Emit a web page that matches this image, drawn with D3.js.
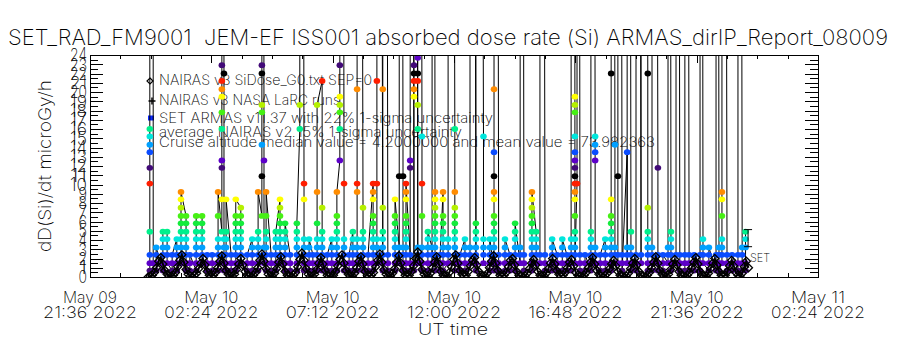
<!DOCTYPE html>
<html><head><meta charset="utf-8">
<script src="https://cdn.jsdelivr.net/npm/d3@7"></script>
<style>
body{margin:0;background:#fff}
svg{display:block}
text{font-family:"Inter","DejaVu Sans",sans-serif;font-weight:200;fill:#000}
.axis path,.axis line{stroke:#000;stroke-width:1;shape-rendering:crispEdges}
</style>
</head><body>
<svg id="c" width="900" height="350"></svg>
<script>
// ---------------- data ----------------
const chartTitle = "SET_RAD_FM9001  JEM-EF ISS001 absorbed dose rate (Si) ARMAS_dirIP_Report_08009";
const yTitle = "dD(Si)/dt microGy/h";
const xTitle = "UT time";
const xTickLabels = [["May 09","21:36 2022"],["May 10","02:24 2022"],["May 10","07:12 2022"],["May 10","12:00 2022"],["May 10","16:48 2022"],["May 10","21:36 2022"],["May 11","02:24 2022"]];
const xMajorMinutes = [0, 288, 576, 864, 1152, 1440, 1728];      // minutes after 2022-05-09 21:36 UT
const yTickValues = [0,1,2,3,4,5,6,7,8,9,10,11,12,13,14,15,16,17,18,19,20,21,22,23,24];
const legendLabels = [
  "NAIRAS v3 SiDose_G0.txt SEP=0",
  "NAIRAS v3 NASA LaRC runs",
  "SET ARMAS v11.37 with 22% 1-sigma uncertainty",
  "average NAIRAS v2 15% 1-sigma uncertainty",
  "Cruise altitude median value = 4.2000000 and mean value = 73.982363"
];
const cruiseMedian = 4.2;
const setUncertainty = 0.22;
const setErrMinute = 1562;
// SET ARMAS samples, grouped: [minute, dose, dose, ...] in time order (values > 24 are off scale)
const setColumns = [
 [142, 0.7, 1.5, 2.4, 4.9, 10.1, 11.8, 13.5, 14.3, 15.2, 16.0, 300],
 [150, 300, 1.5, 0.7],
 [157, 0.7, 1.5, 2.4, 3.2],
 [173, 0.7, 1.5, 2.4, 3.2, 4.1, 4.9],
 [183, 4.9, 4.1, 3.2, 2.4, 1.5],
 [195, 0.7, 1.5, 2.4],
 [206, 4.1, 3.2, 2.4, 1.5, 0.7],
 [216, 1.5, 2.4, 3.2, 4.1, 4.9, 5.8, 6.6, 7.5, 8.4, 9.2],
 [228, 6.6, 5.8, 4.9, 4.1, 3.2, 2.4, 1.5, 0.7],
 [237, 0.7, 1.5, 2.4],
 [252, 0.7, 1.5, 2.4, 3.2, 4.1, 4.9, 5.8, 6.6],
 [266, 6.6, 5.8, 4.9, 4.1, 3.2, 2.4, 1.5],
 [278, 0.7, 1.5, 2.4],
 [290, 2.4, 1.5, 0.7],
 [304, 0.7, 1.5, 2.4, 3.2, 4.1, 6.6, 9.2],
 [313, 4.9, 8.4, 11.8, 12.6, 16.0, 17.8, 19.5, 20.3, 21.2, 22.9, 300],
 [318, 22.0, 4.1, 3.2, 2.4, 1.5, 0.7],
 [323, 0.7, 1.5, 2.4, 3.2, 4.1, 4.9, 8.4],
 [335, 2.4, 1.5, 0.7],
 [346, 0.7, 1.5, 2.4, 3.2, 4.1, 4.9, 5.8, 6.6, 8.4],
 [358, 7.5, 6.6, 5.8, 4.9, 4.1, 3.2, 2.4, 1.5],
 [373, 0.7, 1.5, 2.4],
 [385, 4.1, 3.2, 2.4, 1.5, 0.7],
 [399, 0.7, 1.5, 2.4, 3.2, 4.1, 4.9, 9.2],
 [408, 6.6, 10.9, 14.3, 17.8, 18.6, 22.0, 22.9, 300],
 [413, 12.6, 3.2, 2.4, 1.5],
 [418, 0.7, 1.5, 2.4, 3.2, 4.1, 4.9, 6.6, 9.2],
 [430, 2.4, 1.5, 0.7],
 [441, 0.7, 1.5, 2.4, 3.2, 4.1, 4.9],
 [451, 8.4, 7.5, 6.6, 5.8, 4.9, 4.1, 3.2, 2.4, 1.5],
 [463, 0.7, 1.5, 2.4, 3.2, 4.1, 4.9, 5.8],
 [475, 2.4, 1.5, 0.7],
 [491, 0.7, 1.5, 2.4, 3.2, 4.1, 4.9, 5.8],
 [498, 16.0, 18.6, 300],
 [508, 10.1, 8.4, 4.1, 3.2, 2.4, 1.5, 0.7],
 [520, 0.7, 1.5, 2.4, 3.2, 4.1],
 [529, 2.4, 1.5, 0.7],
 [539, 0.7, 1.5, 2.4, 3.2, 4.1, 5.8, 9.2, 18.6],
 [551, 21.2, 7.5, 4.9, 4.1, 3.2, 2.4, 1.5, 0.7],
 [563, 0.7, 1.5, 2.4],
 [574, 4.1, 3.2, 2.4, 1.5, 0.7],
 [586, 0.7, 1.5, 2.4, 3.2, 4.1, 4.9, 5.8, 6.6, 9.2],
 [593, 12.6, 16.0, 17.8, 18.6, 19.5, 22.9, 300],
 [603, 10.1, 4.1, 3.2, 2.4, 1.5, 0.7],
 [615, 0.7, 1.5, 2.4],
 [624, 4.9, 4.1, 3.2, 2.4, 1.5, 0.7],
 [634, 0.7, 1.5, 2.4, 3.2, 4.1, 9.2, 10.1, 20.3, 300],
 [648, 7.5, 4.9, 4.1, 3.2, 2.4, 1.5, 0.7],
 [660, 0.7, 1.5, 2.4],
 [672, 10.1, 9.2, 8.4, 6.6, 5.8, 4.9, 4.1, 3.2, 2.4, 1.5, 0.7],
 [681, 1.5, 2.4, 3.2, 4.1, 10.1, 21.2, 300],
 [695, 0.7, 1.5, 2.4, 3.2, 4.1, 4.9, 7.5, 20.3, 300],
 [707, 2.4, 1.5, 0.7],
 [724, 0.7, 1.5, 2.4, 3.2, 4.1, 4.9, 5.8, 6.6, 8.4],
 [734, 3.2, 2.4, 1.5, 10.9, 300],
 [743, 10.9, 3.2, 2.4, 1.5, 0.7],
 [750, 0.7, 1.5, 2.4, 3.2, 4.1, 4.9, 5.8, 6.6, 8.4, 9.2, 10.1],
 [760, 2.4, 1.5, 0.7, 11.8, 12.6, 300],
 [769, 0.7, 1.5, 19.5, 20.3, 21.2, 22.0, 22.9, 300],
 [778, 1.5, 2.4, 3.2, 16.0, 18.6, 21.2, 22.0, 23.7, 300],
 [788, 15.2, 10.1, 6.6, 3.2, 2.4, 1.5, 0.7],
 [802, 0.7, 1.5, 2.4, 3.2, 4.1, 4.9],
 [812, 3.2, 2.4, 1.5, 300],
 [819, 9.2, 8.4, 7.5, 6.6, 5.8, 4.9, 4.1, 3.2, 2.4, 1.5, 0.7],
 [831, 0.7, 1.5, 2.4],
 [838, 9.2, 8.4, 6.6, 5.8, 4.9, 4.1, 3.2, 2.4, 1.5, 0.7],
 [850, 1.5, 2.4, 3.2, 4.1, 300],
 [866, 16.0, 9.2, 7.5, 6.6, 5.8, 4.9, 4.1, 3.2, 2.4, 1.5, 0.7],
 [878, 0.7, 1.5, 2.4],
 [890, 4.1, 3.2, 2.4, 1.5, 0.7],
 [902, 1.5, 2.4, 3.2, 300],
 [916, 5.8, 4.9, 4.1, 3.2, 2.4, 1.5, 0.7, 300],
 [934, 15.2, 4.1, 3.2, 2.4, 1.5],
 [949, 0.7, 1.5, 2.4, 3.2, 4.1],
 [959, 0.7, 1.5, 2.4, 3.2, 4.1, 4.9, 5.8, 6.6, 8.4, 9.2, 10.9, 13.5, 20.3, 300],
 [970, 2.4, 1.5, 0.7],
 [985, 0.7, 1.5, 2.4, 3.2, 4.1],
 [997, 2.4, 1.5, 0.7],
 [1009, 0.7, 1.5, 2.4, 3.2, 4.1, 4.9, 5.8],
 [1021, 1.5, 2.4, 3.2, 300],
 [1030, 2.4, 1.5, 0.7],
 [1049, 0.7, 1.5, 2.4, 3.2, 4.1, 4.9, 5.8, 6.6, 7.5, 8.4, 9.2],
 [1059, 4.9, 4.1, 3.2, 2.4, 1.5],
 [1068, 1.5, 2.4, 300],
 [1080, 2.4, 1.5, 0.7],
 [1097, 0.7, 1.5, 2.4, 3.2, 4.1],
 [1109, 2.4, 1.5, 0.7],
 [1121, 0.7, 1.5, 2.4, 3.2, 4.1],
 [1132, 2.4, 1.5, 0.7],
 [1142, 0.7, 1.5, 2.4, 3.2, 4.1, 300],
 [1151, 19.5, 18.6, 17.8, 15.2, 13.5, 12.6, 11.8, 10.9, 10.1, 9.2, 8.4, 6.6, 4.9, 4.1, 3.2, 2.4, 1.5],
 [1156, 10.1, 300],
 [1163, 2.4, 1.5, 0.7],
 [1175, 0.7, 1.5, 2.4],
 [1189, 0.7, 1.5, 2.4, 3.2, 4.1, 4.9, 300],
 [1199, 15.2, 14.3, 13.5, 12.6, 3.2, 2.4, 1.5],
 [1211, 0.7, 1.5, 2.4],
 [1223, 4.1, 3.2, 2.4, 1.5, 0.7],
 [1237, 0.7, 1.5, 2.4, 3.2, 4.1, 4.9, 5.8, 6.6, 8.4, 22.0, 300],
 [1246, 14.3, 3.2, 2.4, 1.5],
 [1253, 1.5, 2.4, 10.9, 300],
 [1263, 2.4, 1.5, 0.7],
 [1275, 13.5, 3.2, 2.4, 1.5, 300],
 [1284, 4.9, 3.2, 2.4, 1.5, 0.7],
 [1296, 0.7, 1.5, 2.4, 300],
 [1308, 2.4, 1.5, 300],
 [1324, 22.0, 7.5, 4.9, 4.1, 3.2, 2.4, 1.5, 0.7],
 [1334, 0.7, 1.5, 2.4, 3.2, 300],
 [1348, 11.8, 2.4, 1.5, 0.7],
 [1360, 0.7, 1.5, 2.4],
 [1372, 1.5, 2.4, 3.2, 300],
 [1379, 4.9, 4.1, 3.2, 2.4, 1.5, 0.7],
 [1391, 1.5, 2.4, 300],
 [1400, 2.4, 1.5, 0.7],
 [1412, 0.7, 1.5, 2.4, 300],
 [1422, 2.4, 1.5, 0.7],
 [1434, 0.7, 1.5, 2.4],
 [1448, 0.7, 1.5, 2.4, 300],
 [1455, 4.1, 3.2, 2.4, 1.5],
 [1469, 0.7, 1.5, 2.4, 3.2],
 [1486, 0.7, 1.5, 2.4, 300],
 [1493, 3.2, 2.4, 1.5, 0.7],
 [1500, 1.5, 2.4, 3.2, 4.1, 6.6, 8.4, 9.2, 300],
 [1512, 2.4, 1.5, 0.7],
 [1524, 0.7, 1.5, 2.4],
 [1538, 0.7, 1.5, 2.4, 300],
 [1548, 3.2, 2.4, 1.5, 0.7],
 [1556, 0.7, 1.5, 3.2, 4.1, 4.9]
];
// NAIRAS v3 model, one value every 5 minutes starting at minute 138
const nairasStartMinute = 138;
const nairasStepMinutes = 5;
const nairasDose = [
 0.0,0.1,0.2,0.5,1.0,1.7,2.1,1.4,0.7,0.3,0.1,
 0.1,0.2,0.5,1.1,1.8,2.4,1.6,0.8,0.3,0.1,
 0.0,0.2,0.4,0.9,1.5,2.0,1.3,0.6,0.2,0.1,
 0.2,0.5,1.0,1.7,2.3,1.5,0.7,0.3,0.1,
 0.1,0.3,0.8,1.4,2.0,1.3,0.6,0.2,0.1,
 0.0,0.2,0.5,1.0,1.8,2.5,1.7,0.9,0.3,0.1,
 0.1,0.4,0.9,1.6,2.2,1.4,0.6,0.2,0.1,
 0.0,0.2,0.5,1.1,1.9,2.6,1.8,0.9,0.3,0.1,
 0.1,0.3,0.8,1.5,2.1,1.4,0.7,0.2,0.1,
 0.0,0.2,0.6,1.2,1.9,2.4,1.5,0.7,0.3,0.1,
 0.1,0.4,1.0,1.7,2.2,1.4,0.6,0.2,0.1,
 0.2,0.5,1.1,1.8,2.5,1.6,0.8,0.3,0.1,
 0.1,0.4,0.9,1.6,2.3,1.5,0.7,0.2,0.1,
 0.2,0.6,1.2,2.0,2.7,1.7,0.8,0.3,0.1,
 0.1,0.4,1.0,1.6,2.2,1.4,0.6,0.2,0.1,
 0.1,0.5,1.1,1.9,2.4,1.5,0.7,0.3,0.1,
 0.2,0.6,1.2,1.8,2.1,1.3,0.6,0.2,0.1,
 0.1,0.4,1.0,1.7,2.3,1.5,0.7,0.2,0.1,
 0.2,0.5,1.1,1.8,2.0,1.3,0.6,0.2,0.1,
 0.0,0.1,0.4,0.9,1.5,1.9,1.3,0.6,0.2,0.1,
 0.1,0.4,0.9,1.5,2.0,1.4,0.7,0.3,0.1,
 0.2,0.5,1.0,1.6,1.9,1.2,0.5,0.2,0.1,
 0.0,0.2,0.5,1.0,1.6,2.1,1.4,0.7,0.3,0.1,
 0.0,0.2,0.4,0.9,1.4,1.8,1.2,0.6,0.2,0.1,
 0.0,0.1,0.4,0.9,1.5,2.0,1.3,0.6,0.2,0.1,
 0.0,0.2,0.5,1.0,1.6,2.2,1.5,0.7,0.3,0.1,
 0.1,0.3,0.8,1.4,1.9,1.3,0.6,0.2,0.1,
 0.0,0.2,0.5,1.0,1.6,2.1,1.4,0.6,0.2,0.1,
 0.1,0.4,0.9,1.5,2.0,1.3,0.6,0.2,0.1,
 0.2,0.6,1.2,1.8,1.2,0.5,0.2,0.1,
 0.4,1.1,1.7,1.0
];
// colour table (cycles every 13 count levels)
const levelColors = ["#420a78","#5c00c8","#0a4cff","#00a0ff","#00e6dc","#00f08c","#14eb3c","#46f014","#b4f000","#ffff00","#ff8c00","#ff1e00","#000000"];

// ---------------- drawing ----------------
const svg = d3.select("#c");
const W = 900, H = 350;
const plot = {left: 90, right: 818, top: 55, bottom: 277};
const t0 = Date.UTC(2022, 4, 9, 21, 36);
const toDate = m => new Date(t0 + m * 60000);
const x = d3.scaleUtc().domain([toDate(0), toDate(1728)]).range([plot.left, plot.right]);
const y = d3.scaleLinear().domain([0, 24]).range([plot.bottom, plot.top]);
const countStep = 0.855, countOffset = 0.2;
const colorOf = d => {
  const k = Math.round((d + countOffset) / countStep);
  return levelColors[((k - 1) % 13 + 13) % 13];
};

svg.append("rect").attr("width", W).attr("height", H).attr("fill", "#fff");
svg.append("defs").append("clipPath").attr("id", "clip").append("rect")
  .attr("x", plot.left).attr("y", plot.top)
  .attr("width", plot.right - plot.left).attr("height", plot.bottom - plot.top);

// title
svg.append("text").attr("x", 8).attr("y", 45).attr("font-size", 21)
  .attr("textLength", 880).attr("lengthAdjust", "spacingAndGlyphs")
  .style("white-space", "pre").text(chartTitle);

// legend (drawn below the data, as in the original)
const leg = svg.append("g");
const legBase = [85, 105, 123, 137, 147];
const legLen = [213, 181, 334, 303, 496];
legendLabels.forEach((s, i) => {
  leg.append("text").attr("x", 159).attr("y", legBase[i]).attr("font-size", 14)
    .attr("textLength", legLen[i]).attr("lengthAdjust", "spacingAndGlyphs").text(s);
});
leg.append("path").attr("d", "M150,78L153,81L150,84L147,81Z").attr("fill", "none").attr("stroke", "#000").attr("stroke-width", 1.2);
leg.append("path").attr("d", "M148.5,101H155.5M152,97.5V104.5").attr("stroke", "#000").attr("stroke-width", 1.5);
leg.append("rect").attr("x", 148).attr("y", 115.5).attr("width", 6).attr("height", 5).attr("fill", "#0a28ff");

// data
const setPoints = [];
setColumns.forEach(c => { for (let i = 1; i < c.length; i++) setPoints.push({t: toDate(c[0]), d: c[i]}); });
const dataG = svg.append("g").attr("clip-path", "url(#clip)");
dataG.append("path").datum(setPoints)
  .attr("d", d3.line().x(p => x(p.t)).y(p => y(p.d)))
  .attr("fill", "none").attr("stroke", "#000").attr("stroke-width", 1);
dataG.selectAll("ellipse.set").data(setPoints.filter(p => p.d <= 25)).join("ellipse")
  .attr("class", "set")
  .attr("cx", p => x(p.t)).attr("cy", p => y(p.d))
  .attr("rx", 3.3).attr("ry", 2.9)
  .attr("fill", p => colorOf(p.d));
const nairasPoints = nairasDose.map((d, i) => ({t: toDate(nairasStartMinute + i * nairasStepMinutes), d}));
dataG.append("path").datum(nairasPoints)
  .attr("d", d3.line().x(p => x(p.t)).y(p => y(p.d)))
  .attr("fill", "none").attr("stroke", "#000").attr("stroke-width", 2);
dataG.selectAll("path.nai").data(nairasPoints).join("path")
  .attr("class", "nai")
  .attr("transform", p => `translate(${x(p.t)},${y(p.d)})`)
  .attr("d", "M0,-4L4,0L0,4L-4,0Z")
  .attr("fill", "none").attr("stroke", "#000").attr("stroke-width", 1.3);

// axes
const majors = xMajorMinutes.map(toDate);
const minors = d3.range(0, 1729, 72).map(toDate);
const yMinor = d3.range(0.5, 24, 1);
svg.append("g").attr("class", "axis").attr("transform", `translate(0,${plot.bottom})`)
  .call(d3.axisBottom(x).tickValues(minors).tickSize(-4).tickSizeOuter(0).tickFormat(""));
svg.append("g").attr("class", "axis").attr("transform", `translate(0,${plot.bottom})`)
  .call(d3.axisBottom(x).tickValues(majors).tickSize(-8).tickSizeOuter(0).tickFormat(""));
svg.append("g").attr("class", "axis").attr("transform", `translate(0,${plot.top})`)
  .call(d3.axisTop(x).tickValues(minors).tickSize(-4).tickSizeOuter(0).tickFormat(""));
svg.append("g").attr("class", "axis").attr("transform", `translate(0,${plot.top})`)
  .call(d3.axisTop(x).tickValues(majors).tickSize(-8).tickSizeOuter(0).tickFormat(""));
svg.append("g").attr("class", "axis").attr("transform", `translate(${plot.left},0)`)
  .call(d3.axisLeft(y).tickValues(yMinor).tickSize(-8).tickSizeOuter(0).tickFormat(""));
const yl = svg.append("g").attr("class", "axis").attr("transform", `translate(${plot.left},0)`)
  .call(d3.axisLeft(y).tickValues(yTickValues).tickSize(-13).tickSizeOuter(0).tickPadding(3).tickFormat(d => d));
yl.selectAll("text").attr("font-size", 18).attr("font-family", null)
  .attr("textLength", d => String(d).length * 8.5).attr("lengthAdjust", "spacingAndGlyphs");
svg.append("g").attr("class", "axis").attr("transform", `translate(${plot.right},0)`)
  .call(d3.axisRight(y).tickValues(yMinor).tickSize(-8).tickSizeOuter(0).tickFormat(""));
svg.append("g").attr("class", "axis").attr("transform", `translate(${plot.right},0)`)
  .call(d3.axisRight(y).tickValues(yTickValues).tickSize(-13).tickSizeOuter(0).tickFormat(""));

// x tick labels (two lines)
const xl = svg.append("g");
majors.forEach((m, i) => {
  xl.append("text").attr("x", x(m)).attr("y", 303).attr("font-size", 16).attr("text-anchor", "middle")
    .attr("textLength", 54).attr("lengthAdjust", "spacingAndGlyphs").text(xTickLabels[i][0]);
  xl.append("text").attr("x", x(m)).attr("y", 318).attr("font-size", 16).attr("text-anchor", "middle")
    .attr("textLength", 94).attr("lengthAdjust", "spacingAndGlyphs").text(xTickLabels[i][1]);
});
svg.append("text").attr("x", 453).attr("y", 335).attr("font-size", 16).attr("text-anchor", "middle")
  .attr("textLength", 70).attr("lengthAdjust", "spacingAndGlyphs").text(xTitle);
svg.append("text").attr("transform", "translate(51,166) rotate(-90)").attr("font-size", 17)
  .attr("text-anchor", "middle").attr("textLength", 172).attr("lengthAdjust", "spacingAndGlyphs").text(yTitle);

// SET uncertainty bar
const ex = x(toDate(setErrMinute));
const eLo = y(cruiseMedian * (1 - setUncertainty)), eHi = y(cruiseMedian * (1 + setUncertainty));
svg.append("path").attr("d", `M${ex},${eLo}V${eHi}M${ex-4},${eLo}H${ex+4}M${ex-4},${eHi}H${ex+4}`)
  .attr("stroke", "#000").attr("stroke-width", 1).attr("fill", "none");
svg.append("text").attr("x", ex + 2).attr("y", 262).attr("font-size", 12)
  .attr("textLength", 20).attr("lengthAdjust", "spacingAndGlyphs").text("SET");
</script>
</body></html>
